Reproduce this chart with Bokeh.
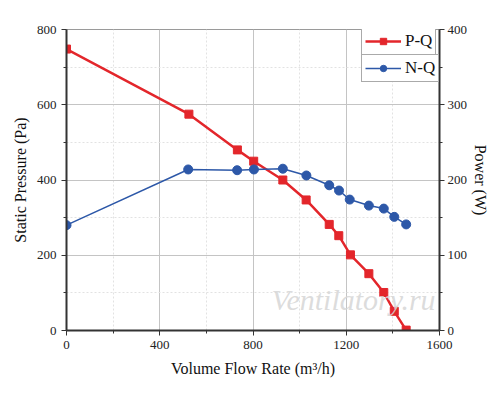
from bokeh.plotting import figure
from bokeh.models import Range1d, LinearAxis, FixedTicker, Legend, LegendItem, Label
from bokeh.embed import file_html
from bokeh.resources import INLINE

flow_pq = [0, 525, 733, 803, 928, 1028, 1127, 1168, 1218, 1297, 1361, 1406, 1457]
pressure = [748, 575, 480, 450, 400, 347, 282, 252, 201, 151, 101, 51, 1]
flow_nq = [0, 522, 732, 804, 928, 1029, 1127, 1169, 1215, 1297, 1361, 1406, 1457]
power = [140, 214, 213, 214, 215, 206, 193, 186, 174, 166, 162, 151, 141]

x_ticks = [0, 400, 800, 1200, 1600]
x_minor = [200, 600, 1000, 1400]
y_ticks = [0, 200, 400, 600, 800]
y_minor = [100, 300, 500, 700]
p_ticks = [0, 100, 200, 300, 400]
p_minor = [50, 150, 250, 350]

FONT = "Liberation Serif"
RED = "#e3262b"
BLUE = "#2d58a8"
AX = "#333333"

p = figure(frame_width=373, frame_height=301, output_backend="svg", toolbar_location=None,
           x_range=Range1d(0, 1600), y_range=Range1d(0, 800),
           min_border_left=66, min_border_right=45, min_border_top=29, min_border_bottom=57)
p.extra_y_ranges = {"power": Range1d(0, 400)}

p.outline_line_color = "#9a9a9a"
p.outline_line_width = 1

def style_axis(ax):
    ax.axis_line_width = 2
    ax.axis_line_color = AX
    ax.major_tick_line_color = AX
    ax.minor_tick_line_color = AX
    ax.major_tick_out = 5
    ax.major_tick_in = 0
    ax.minor_tick_out = 3
    ax.minor_tick_in = 0
    ax.major_label_text_font = FONT
    ax.major_label_text_font_size = "13px"
    ax.major_label_text_color = "#222222"
    ax.axis_label_text_font = FONT
    ax.axis_label_text_font_size = "16px"
    ax.axis_label_text_font_style = "normal"
    ax.axis_label_text_color = "#111111"

style_axis(p.xaxis[0])
style_axis(p.yaxis[0])
p.xaxis[0].ticker = FixedTicker(ticks=x_ticks, minor_ticks=x_minor)
p.yaxis[0].ticker = FixedTicker(ticks=y_ticks, minor_ticks=y_minor)
p.xaxis[0].axis_label = "Volume Flow Rate (m³/h)"
p.yaxis[0].axis_label = "Static Pressure (Pa)"
p.xaxis[0].axis_label_standoff = 8
p.yaxis[0].axis_label_standoff = 5
p.yaxis[0].major_label_standoff = 5

rax = LinearAxis(y_range_name="power", axis_label="Power (W)",
                 ticker=FixedTicker(ticks=p_ticks, minor_ticks=p_minor))
style_axis(rax)
rax.major_label_standoff = 3
rax.axis_label_standoff = 2
p.add_layout(rax, "right")

p.xgrid.ticker = FixedTicker(ticks=x_ticks, minor_ticks=x_minor)
p.ygrid.ticker = FixedTicker(ticks=y_ticks, minor_ticks=y_minor)
for g in [p.xgrid[0], p.ygrid[0]]:
    g.grid_line_color = "#c4c4c4"
    g.grid_line_width = 1
    g.minor_grid_line_color = "#e2e2e2"
    g.minor_grid_line_dash = "2 2"

wm = Label(x=1231, y=82, text="Ventilatory.ru", text_font=FONT, text_font_size="30px",
           text_font_style="italic", text_color="#d6d6d6", text_alpha=0.85,
           text_align="center", text_baseline="middle")
p.add_layout(wm)

l1 = p.line(flow_pq, pressure, line_color=RED, line_width=2.5)
m1 = p.scatter(flow_pq, pressure, marker="square", size=8, fill_color=RED, line_color=RED)
l2 = p.line(flow_nq, power, line_color=BLUE, line_width=1.5, y_range_name="power")
m2 = p.scatter(flow_nq, power, marker="circle", size=9, fill_color=BLUE, line_color=BLUE,
               y_range_name="power")

def mk_legend(label, rs, loc):
    lg = Legend(items=[LegendItem(label=label, renderers=rs)], location=loc)
    lg.border_line_color = "#555555"
    lg.border_line_width = 1
    lg.background_fill_color = "white"
    lg.background_fill_alpha = 1
    lg.label_text_font = FONT
    lg.label_text_font_size = "17px"
    lg.label_text_color = "#111111"
    lg.glyph_width = 36
    lg.glyph_height = 16
    lg.label_height = 16
    lg.label_standoff = 4
    lg.padding = 3
    lg.spacing = 0
    lg.margin = 0
    return lg

p.add_layout(mk_legend("P-Q", [l1, m1], (295, 275)))
p.add_layout(mk_legend("N-Q", [l2, m2], (295, 248)))

open("out.html", "w").write(file_html(p, INLINE))
